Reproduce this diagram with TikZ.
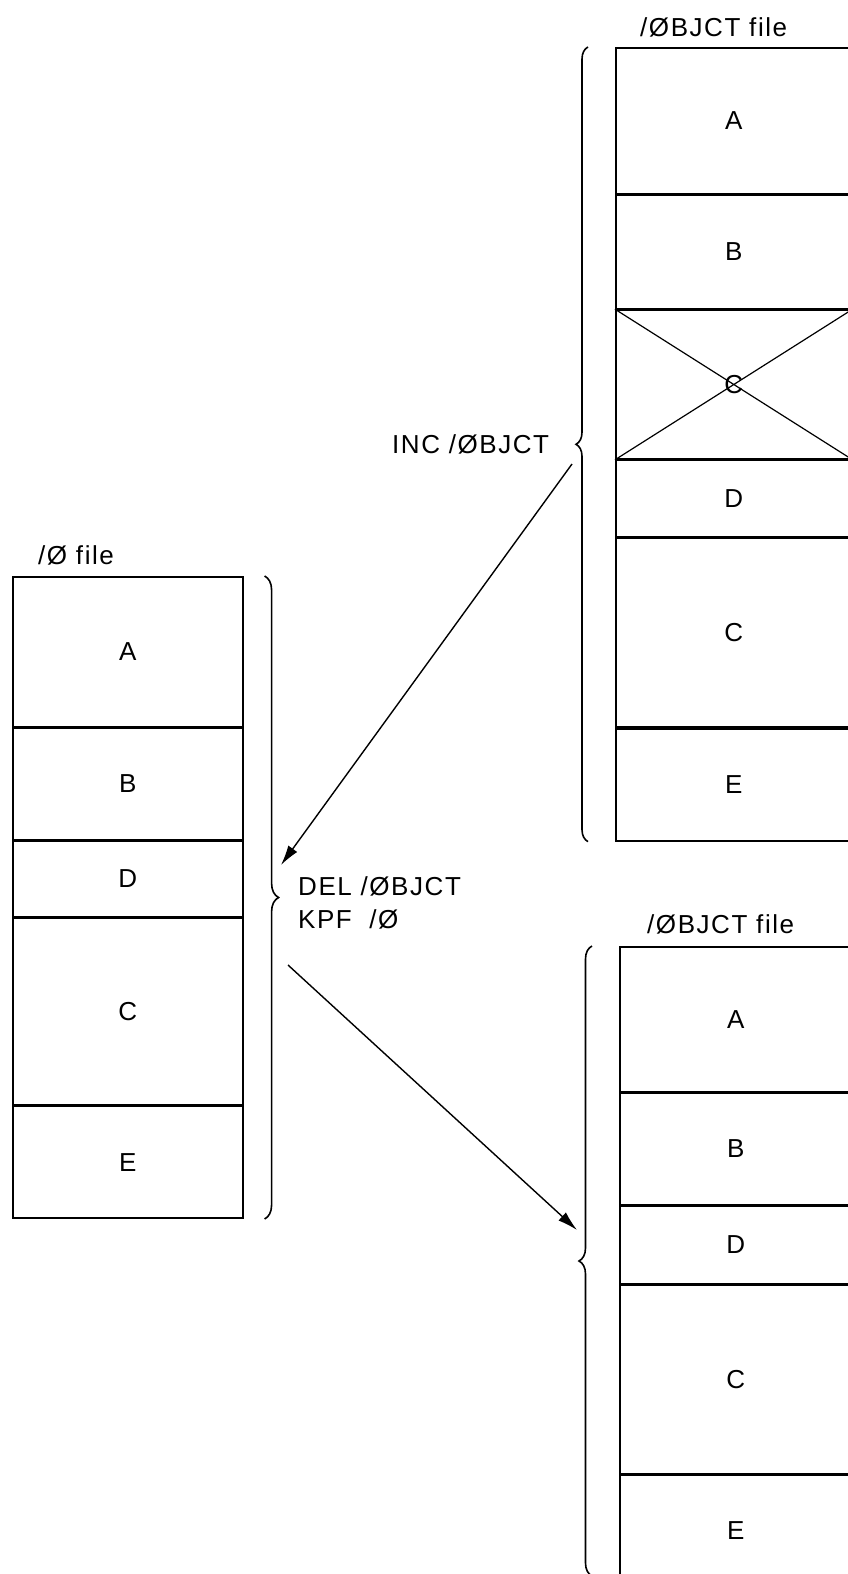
\documentclass[tikz,border=0pt]{standalone}
\usepackage{fontspec}
\setmainfont{Liberation Sans}
\newfontfamily\spacedfont[LetterSpace=6]{Liberation Sans}
\usetikzlibrary{positioning,arrows.meta,decorations.pathreplacing}

\begin{document}
\begin{tikzpicture}[
        x=1pt, y=-1pt,
        every node/.style={font=\fontsize{26}{30}\selectfont},
        cell/.style={draw, line width=1.6pt, inner sep=0pt, anchor=north west},
        leftcell/.style={cell, minimum width=230pt},
        topcell/.style={cell, minimum width=236pt},
        lowcell/.style={cell, minimum width=232pt},
        lbl/.style={anchor=base west, inner sep=0pt, font=\spacedfont\fontsize{26}{30}\selectfont},
        bracket/.style={decorate, decoration={brace, amplitude=#1}, line width=1.6pt},
        arrow/.style={-{Latex[length=20pt, width=11pt]}, line width=1.4pt}
    ]
        \useasboundingbox (0,0) rectangle (848,1574);
        \clip (0,0) rectangle (848,1574);

        % Left: the /O file
        \node[leftcell, minimum height=150pt] (lA) at (12,576) {A};
        \node[leftcell, minimum height=111pt, below=0pt of lA] (lB) {B};
        \node[leftcell, minimum height=76pt, below=0pt of lB] (lD) {D};
        \node[leftcell, minimum height=186pt, below=0pt of lD] (lC) {C};
        \node[leftcell, minimum height=112pt, below=0pt of lC] (lE) {E};
        \node[lbl] (lTitle) at ([xshift=26pt, yshift=12pt]lA.north west) {/Ø file};
        \draw[bracket=14pt] ([xshift=21pt]lA.north east) -- ([xshift=21pt]lE.south east);

        % Top right: /OBJCT file before
        \node[topcell, minimum height=146pt] (tA) at (615,47) {A};
        \node[topcell, minimum height=113pt, below=0pt of tA] (tB) {B};
        \node[topcell, minimum height=149pt, below=0pt of tB] (tX) {C};
        \node[topcell, minimum height=76pt, below=0pt of tX] (tD) {D};
        \node[topcell, minimum height=189pt, below=0pt of tD] (tC) {C};
        \node[topcell, minimum height=112pt, below=0pt of tC] (tE) {E};
        \draw[line width=1.2pt] (tX.north west) -- (tX.south east)
            (tX.south west) -- (tX.north east);
        \node[lbl] (tTitle) at ([xshift=25pt, yshift=11pt]tA.north west) {/ØBJCT file};
        \draw[bracket=12pt] ([xshift=-27pt]tE.south west) -- ([xshift=-27pt]tA.north west);

        % Bottom right: /OBJCT file after
        \node[lowcell, minimum height=145pt] (bA) at (619,946) {A};
        \node[lowcell, minimum height=111pt, below=0pt of bA] (bB) {B};
        \node[lowcell, minimum height=78pt, below=0pt of bB] (bD) {D};
        \node[lowcell, minimum height=188pt, below=0pt of bD] (bC) {C};
        \node[lowcell, minimum height=110pt, below=0pt of bC] (bE) {E};
        \node[lbl] (bTitle) at ([xshift=28pt, yshift=13pt]bA.north west) {/ØBJCT file};
        \draw[bracket=13pt] ([xshift=-27pt, yshift=10pt]bE.south west) -- ([xshift=-27pt]bA.north west);

        % Commands
        \node[lbl] (inc) at (392,453) {INC /ØBJCT};
        \node[lbl] (del) at (298,895) {DEL /ØBJCT};
        \node[lbl] (kpf) at ([yshift=-33pt]del.base west) {KPF~ /Ø};

        % Arrows
        \coordinate (incFrom) at (572,464);
        \coordinate (incTo) at (281,865);
        \coordinate (kpfFrom) at (288,965);
        \coordinate (kpfTo) at (577,1230);
        \draw[arrow] (incFrom) -- (incTo);
        \draw[arrow] (kpfFrom) -- (kpfTo);
    \end{tikzpicture}
\end{document}
